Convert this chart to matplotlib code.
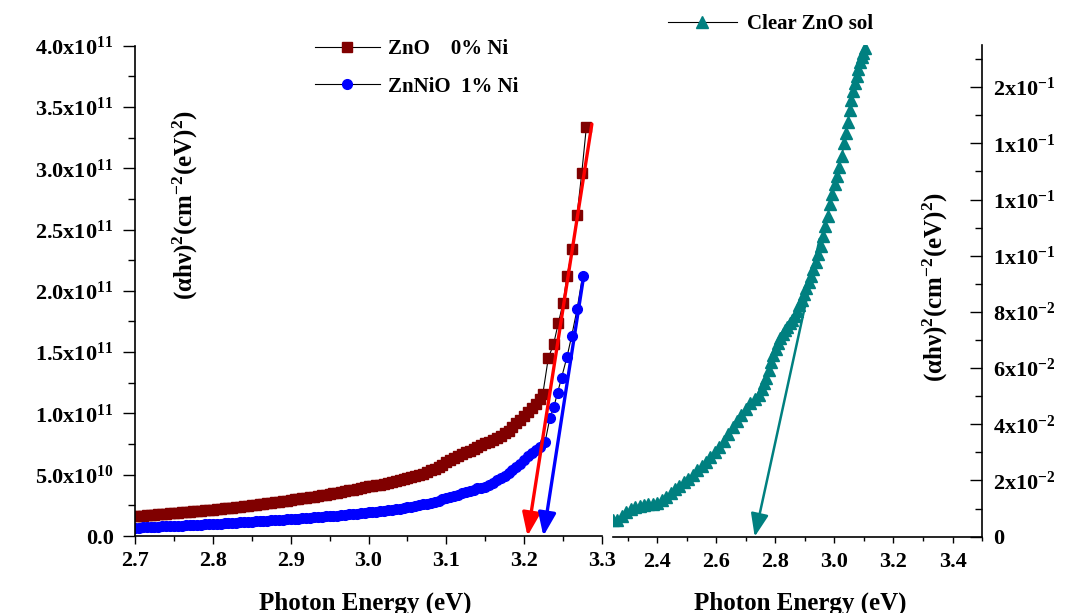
import numpy as np
import matplotlib
matplotlib.use('Agg')
import matplotlib.pyplot as plt
from matplotlib.ticker import FixedLocator, MultipleLocator

plt.rcParams['font.family'] = ['Liberation Serif', 'DejaVu Serif']
plt.rcParams['font.weight'] = 'bold'
plt.rcParams['mathtext.fontset'] = 'custom'
plt.rcParams['mathtext.rm'] = 'Liberation Serif:bold'
plt.rcParams['mathtext.bf'] = 'Liberation Serif:bold'
plt.rcParams['mathtext.it'] = 'Liberation Serif:bold:italic'

E10 = 1e10

# ZnO 0% Ni  -> (alpha h nu)^2 in units of 1e10
zno_energy = [2.700, 2.705, 2.710, 2.715, 2.720, 2.725, 2.730, 2.735, 2.740, 2.745,
              2.750, 2.755, 2.760, 2.765, 2.770, 2.775, 2.780, 2.785, 2.790, 2.795,
              2.800, 2.805, 2.810, 2.815, 2.820, 2.825, 2.830, 2.835, 2.840, 2.845,
              2.850, 2.855, 2.860, 2.865, 2.870, 2.875, 2.880, 2.885, 2.890, 2.895,
              2.900, 2.905, 2.910, 2.915, 2.920, 2.925, 2.930, 2.935, 2.940, 2.945,
              2.950, 2.955, 2.960, 2.965, 2.970, 2.975, 2.980, 2.985, 2.990, 2.995,
              3.000, 3.005, 3.010, 3.015, 3.020, 3.025, 3.030, 3.035, 3.040, 3.045,
              3.050, 3.055, 3.060, 3.065, 3.070, 3.075, 3.080, 3.085, 3.090, 3.095,
              3.100, 3.105, 3.110, 3.115, 3.120, 3.125, 3.130, 3.135, 3.140, 3.145,
              3.150, 3.155, 3.160, 3.165, 3.170, 3.175, 3.180, 3.185, 3.190, 3.195,
              3.200, 3.205, 3.210, 3.215, 3.220, 3.224, 3.231, 3.238, 3.244, 3.250,
              3.255, 3.262, 3.268, 3.274, 3.280]
zno_value = [1.63, 1.65, 1.67, 1.70, 1.72, 1.75, 1.77, 1.80, 1.82, 1.85,
             1.87, 1.90, 1.92, 1.95, 1.97, 2.00, 2.03, 2.06, 2.09, 2.12,
             2.15, 2.18, 2.21, 2.25, 2.28, 2.32, 2.35, 2.39, 2.42, 2.46,
             2.50, 2.54, 2.58, 2.62, 2.66, 2.71, 2.75, 2.80, 2.84, 2.89,
             2.93, 2.98, 3.02, 3.07, 3.12, 3.17, 3.22, 3.27, 3.32, 3.38,
             3.43, 3.49, 3.54, 3.60, 3.66, 3.72, 3.78, 3.85, 3.91, 3.97,
             4.04, 4.09, 4.13, 4.20, 4.27, 4.35, 4.42, 4.50, 4.57, 4.65,
             4.72, 4.80, 4.88, 4.98, 5.08, 5.21, 5.35, 5.50, 5.65, 5.82,
             6.00, 6.19, 6.38, 6.53, 6.68, 6.82, 6.95, 7.10, 7.25, 7.40,
             7.55, 7.70, 7.85, 8.00, 8.15, 8.37, 8.60, 8.90, 9.20, 9.50,
             9.80, 10.15, 10.45, 10.80, 11.20, 11.60, 14.5, 15.7, 17.4, 19.0,
             21.2, 23.4, 26.2, 29.6, 33.4]

# ZnNiO 1% Ni
znnio_energy = [2.700, 2.705, 2.710, 2.715, 2.720, 2.725, 2.730, 2.735, 2.740, 2.745,
                2.750, 2.755, 2.760, 2.765, 2.770, 2.775, 2.780, 2.785, 2.790, 2.795,
                2.800, 2.805, 2.810, 2.815, 2.820, 2.825, 2.830, 2.835, 2.840, 2.845,
                2.850, 2.855, 2.860, 2.865, 2.870, 2.875, 2.880, 2.885, 2.890, 2.895,
                2.900, 2.905, 2.910, 2.915, 2.920, 2.925, 2.930, 2.935, 2.940, 2.945,
                2.950, 2.955, 2.960, 2.965, 2.970, 2.975, 2.980, 2.985, 2.990, 2.995,
                3.000, 3.005, 3.010, 3.015, 3.020, 3.025, 3.030, 3.035, 3.040, 3.045,
                3.050, 3.055, 3.060, 3.065, 3.070, 3.075, 3.080, 3.085, 3.090, 3.095,
                3.100, 3.105, 3.110, 3.115, 3.120, 3.125, 3.130, 3.135, 3.140, 3.145,
                3.150, 3.155, 3.160, 3.165, 3.170, 3.175, 3.180, 3.185, 3.190, 3.195,
                3.200, 3.205, 3.210, 3.215, 3.220, 3.227, 3.233, 3.238, 3.243, 3.248,
                3.255, 3.261, 3.268, 3.275]
znnio_value = [0.68, 0.69, 0.70, 0.72, 0.73, 0.75, 0.76, 0.78, 0.79, 0.81,
               0.82, 0.84, 0.85, 0.87, 0.88, 0.90, 0.91, 0.93, 0.95, 0.97,
               0.98, 1.00, 1.02, 1.04, 1.06, 1.08, 1.10, 1.12, 1.14, 1.16,
               1.18, 1.20, 1.22, 1.24, 1.26, 1.28, 1.30, 1.32, 1.34, 1.36,
               1.38, 1.40, 1.42, 1.45, 1.47, 1.50, 1.52, 1.55, 1.57, 1.60,
               1.62, 1.65, 1.67, 1.70, 1.73, 1.76, 1.79, 1.82, 1.85, 1.88,
               1.92, 1.95, 1.99, 2.03, 2.07, 2.11, 2.15, 2.20, 2.24, 2.29,
               2.34, 2.40, 2.45, 2.52, 2.58, 2.65, 2.72, 2.80, 2.88, 2.98,
               3.08, 3.18, 3.28, 3.38, 3.48, 3.58, 3.68, 3.78, 3.88, 3.95,
               4.02, 4.18, 4.35, 4.55, 4.75, 4.92, 5.10, 5.35, 5.60, 5.90,
               6.20, 6.50, 6.80, 7.02, 7.25, 7.70, 9.60, 10.5, 11.7, 12.9,
               14.6, 16.3, 18.5, 21.2]

# Clear ZnO sol (right panel)
sol_energy = [2.250, 2.265, 2.280, 2.295, 2.310, 2.325, 2.340, 2.355, 2.370, 2.385,
              2.400, 2.415, 2.430, 2.445, 2.460, 2.475, 2.490, 2.505, 2.520, 2.535,
              2.550, 2.565, 2.580, 2.595, 2.610, 2.625, 2.640, 2.655, 2.670, 2.685,
              2.700, 2.715, 2.730, 2.745, 2.753, 2.761, 2.769, 2.777, 2.785, 2.793,
              2.801, 2.809, 2.817, 2.825, 2.833, 2.841, 2.849, 2.857, 2.865, 2.873,
              2.881, 2.889, 2.897, 2.905, 2.913, 2.921, 2.929, 2.937, 2.945, 2.953,
              2.961, 2.969, 2.977, 2.985, 2.993, 3.001, 3.009, 3.017, 3.025, 3.033,
              3.040, 3.046, 3.052, 3.057, 3.063, 3.069, 3.075, 3.081, 3.087, 3.092,
              3.097, 3.102]
sol_value = [0.0058, 0.0060, 0.0072, 0.0088, 0.0097, 0.0104, 0.0109, 0.0114, 0.0117, 0.0118,
             0.0121, 0.0130, 0.0142, 0.0156, 0.0169, 0.0181, 0.0194, 0.0207, 0.0221, 0.0236,
             0.0250, 0.0266, 0.0283, 0.0301, 0.0320, 0.0340, 0.0364, 0.0389, 0.0412, 0.0434,
             0.0455, 0.0476, 0.0490, 0.0505, 0.0525, 0.0547, 0.0566, 0.0594, 0.0622, 0.0645,
             0.0668, 0.0688, 0.0706, 0.0721, 0.0734, 0.0747, 0.0760, 0.0772, 0.0786, 0.0805,
             0.0825, 0.0843, 0.0865, 0.0885, 0.0906, 0.0928, 0.0952, 0.0978, 0.1005, 0.1033,
             0.1070, 0.1105, 0.1140, 0.1185, 0.1220, 0.1255, 0.1285, 0.1315, 0.1355, 0.1400,
             0.1436, 0.1475, 0.1520, 0.1554, 0.1585, 0.1615, 0.1641, 0.1666, 0.1688, 0.1706,
             0.1722, 0.1738]

# Tauc extrapolation lines: (start energy, start value) -> (band gap, 0)
fit_zno = [(3.287, 33.6), (3.2043, 0.0)]
fit_znnio = [(3.277, 21.4), (3.2247, 0.0)]
fit_sol = [(2.95, 0.106), (2.730, 0.0)]

left_yticks = [0, 5, 10, 15, 20, 25, 30, 35, 40]
left_ylabels = ['0.0', '5.0x10$^{10}$', '1.0x10$^{11}$', '1.5x10$^{11}$', '2.0x10$^{11}$',
                '2.5x10$^{11}$', '3.0x10$^{11}$', '3.5x10$^{11}$', '4.0x10$^{11}$']
right_yticks = [0, 0.02, 0.04, 0.06, 0.08, 0.10, 0.12, 0.14, 0.16]
right_ylabels = ['0', '2x10$^{-2}$', '4x10$^{-2}$', '6x10$^{-2}$', '8x10$^{-2}$',
                 '1x10$^{-1}$', '1x10$^{-1}$', '1x10$^{-1}$', '2x10$^{-1}$']

DARKRED = '#800000'
BLUE = '#0000ff'
TEAL = '#008080'

fig = plt.figure(figsize=(10.7, 6.13), dpi=100)
ax1 = fig.add_axes([0.1262, 0.1256, 0.4364, 0.80])
ax2 = fig.add_axes([0.5729, 0.1245, 0.3449, 0.802])

# left panel
l1, = ax1.plot(zno_energy, np.array(zno_value) * E10, '-', color='black', lw=0.8,
               marker='s', ms=7, mfc=DARKRED, mec=DARKRED, label='ZnO    0% Ni')
l2, = ax1.plot(znnio_energy, np.array(znnio_value) * E10, '-', color='black', lw=0.8,
               marker='o', ms=7, mfc=BLUE, mec=BLUE, label='ZnNiO  1% Ni')

def arrow(ax, fit, scale, color, lw):
    (x0, y0), (x1, y1) = fit
    ax.annotate('', xy=(x1, y1 * scale), xytext=(x0, y0 * scale),
                arrowprops=dict(arrowstyle='-|>,head_length=0.7,head_width=0.27',
                                color=color, lw=lw, shrinkA=0, shrinkB=0,
                                mutation_scale=20), zorder=5, annotation_clip=False)

arrow(ax1, fit_zno, E10, '#ff0000', 2.4)
arrow(ax1, fit_znnio, E10, BLUE, 2.4)

ax1.set_xlim(2.7, 3.3)
ax1.set_ylim(0, 4e11)
ax1.spines['top'].set_visible(False)
ax1.spines['right'].set_visible(False)
ax1.xaxis.set_major_locator(MultipleLocator(0.1))
ax1.xaxis.set_minor_locator(MultipleLocator(0.05))
ax1.yaxis.set_major_locator(FixedLocator([v * E10 for v in left_yticks]))
ax1.yaxis.set_minor_locator(MultipleLocator(2.5e10))
ax1.set_yticklabels(left_ylabels)
ax1.tick_params(axis='y', which='major', direction='out', length=8.5, width=1, pad=7, labelsize=16)
ax1.tick_params(axis='y', which='minor', direction='out', length=5, width=1)
ax1.tick_params(axis='x', which='major', direction='out', length=6, width=1, pad=5, labelsize=16)
ax1.tick_params(axis='x', which='minor', direction='out', length=3.5, width=1)

# right panel
l3, = ax2.plot(sol_energy, sol_value, '-', color='black', lw=0.8,
               marker='^', ms=8.5, mfc=TEAL, mec=TEAL, label='Clear ZnO sol')
arrow(ax2, fit_sol, 1, TEAL, 1.8)

ax2.set_xlim(2.25, 3.5)
ax2.set_ylim(0, 0.175)
ax2.spines['top'].set_visible(False)
ax2.spines['left'].set_visible(False)
ax2.yaxis.tick_right()
ax2.xaxis.set_major_locator(FixedLocator([2.4, 2.6, 2.8, 3.0, 3.2, 3.4]))
ax2.xaxis.set_minor_locator(FixedLocator([2.3, 2.5, 2.7, 2.9, 3.1, 3.3, 3.5]))
ax2.set_xticklabels(['2.4', '2.6', '2.8', '3.0', '3.2', '3.4'])
ax2.yaxis.set_major_locator(FixedLocator(right_yticks))
ax2.yaxis.set_minor_locator(MultipleLocator(0.01))
ax2.set_yticklabels(right_ylabels)
ax2.tick_params(axis='y', which='major', direction='in', length=8.5, width=1, pad=8, labelsize=16)
ax2.tick_params(axis='y', which='minor', direction='in', length=5, width=1)
ax2.tick_params(axis='x', which='major', direction='out', length=4, width=1, pad=7, labelsize=16)
ax2.tick_params(axis='x', which='minor', direction='out', length=3, width=1)

for ax in (ax1, ax2):
    for s in ax.spines.values():
        s.set_linewidth(1.2)

ylab = '(αhν)$^{2}$(cm$^{-2}$(eV)$^{2}$)'
fig.text(185 / 1070, 1 - 205 / 613, ylab, rotation=90, ha='center', va='center', fontsize=18)
fig.text(935 / 1070, 1 - 287 / 613, ylab, rotation=90, ha='center', va='center', fontsize=18)
fig.text(365 / 1070, 1 - 603 / 613, 'Photon Energy (eV)', ha='center', va='center', fontsize=18)
fig.text(800 / 1070, 1 - 603 / 613, 'Photon Energy (eV)', ha='center', va='center', fontsize=18)

fig.legend(handles=[l1, l2], loc='upper left', bbox_to_anchor=(315 / 1070, 1 - 39 / 613),
           frameon=False, fontsize=15, handlelength=3.1, handletextpad=0.4,
           labelspacing=0.85, borderpad=0, borderaxespad=0)
fig.legend(handles=[l3], loc='upper left', bbox_to_anchor=(668 / 1070, 1 - 14 / 613),
           frameon=False, fontsize=15, handlelength=3.3, handletextpad=0.5,
           borderpad=0, borderaxespad=0)

fig.savefig('out.png', dpi=100)
